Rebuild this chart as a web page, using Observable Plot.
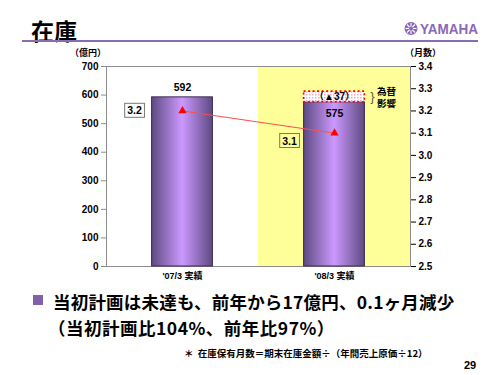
<!DOCTYPE html>
<html><head><meta charset="utf-8">
<script src="https://cdn.jsdelivr.net/npm/d3@7"></script>
<script src="https://cdn.jsdelivr.net/npm/@observablehq/plot@0.6"></script>
<style>
html,body{margin:0;padding:0;background:#fff;}
#page{position:relative;width:500px;height:375px;overflow:hidden;font-family:"Liberation Sans",Arial,"Noto Sans CJK JP",sans-serif;}
.abs{position:absolute;white-space:nowrap;}
#chart{position:absolute;left:0;top:40px;}
#chart svg{font-family:"Liberation Sans",Arial,"Noto Sans CJK JP",sans-serif;font-weight:bold;}
</style></head>
<body>
<div id="page">
  <div class="abs" style="left:31px;top:13px;font-size:23px;font-weight:bold;font-family:'Noto Sans CJK JP';">在庫</div>
  <svg class="abs" style="left:400px;top:18px" width="95" height="22">
    <circle cx="11" cy="10.5" r="6.5" fill="#8a68b8"/>
    <g stroke="#fff" stroke-width="1.1">
      <line x1="11" y1="5" x2="11" y2="16"/><line x1="5.5" y1="10.5" x2="16.5" y2="10.5"/>
      <line x1="7" y1="6.5" x2="15" y2="14.5"/><line x1="15" y1="6.5" x2="7" y2="14.5"/>
    </g>
    <circle cx="11" cy="10.5" r="2" fill="#8a68b8"/>
    <text x="20" y="16" font-size="15" font-weight="bold" fill="#8a68b8" font-family="Liberation Sans Narrow, Liberation Sans, Arial" textLength="58" lengthAdjust="spacingAndGlyphs">YAMAHA</text>
  </svg>
  <div class="abs" style="left:22px;top:40px;width:456px;height:2px;background:#8a6cb0;"></div>
  <div class="abs" style="left:70px;top:46px;font-size:9px;font-weight:bold;font-family:'Noto Sans CJK JP';">（億円）</div>
  <div class="abs" style="left:405px;top:46px;font-size:9px;font-weight:bold;font-family:'Noto Sans CJK JP';">（月数）</div>
  <div id="chart"></div>
  <div class="abs" style="left:33px;top:295px;width:10px;height:10px;background:#8060a8;"></div>
  <div class="abs" style="left:53px;top:289px;font-size:17.5px;font-weight:bold;font-family:'Noto Sans CJK JP';letter-spacing:0.2px;">当初計画は未達も、前年から17億円、0.1ヶ月減少</div>
  <div class="abs" style="left:48px;top:315px;font-size:17.5px;font-weight:bold;font-family:'Noto Sans CJK JP';letter-spacing:0.5px;">（当初計画比104%、前年比97%）</div>
  <div class="abs" style="left:184px;top:346px;font-size:9.5px;font-weight:bold;font-family:'Noto Sans CJK JP';">＊&nbsp;&nbsp;在庫保有月数＝期末在庫金額÷（年間売上原価÷12）</div>
  <div class="abs" style="left:464px;top:359px;font-size:11px;font-weight:bold;">29</div>
</div>
<script>
// ---- data ----
const categories = ["'07/3 実績", "'08/3 実績"];
const inventory = [592, 575];          // 億円
const fxImpact = [null, 37];           // 為替影響 (▲37)
const months = [3.2, 3.1];             // 月数
const leftTicks = [0, 100, 200, 300, 400, 500, 600, 700];
const rightTicks = [2.5, 2.6, 2.7, 2.8, 2.9, 3.0, 3.1, 3.2, 3.3, 3.4];

// ---- scales mapping for secondary axis ----
const yMax = 700, mMin = 2.5, mMax = 3.4;
const toY = m => (m - mMin) / (mMax - mMin) * yMax;
const fromY = y => mMin + y / yMax * (mMax - mMin);

const rows = categories.map((c, k) => ({i: k + 1, cat: c, v: inventory[k], fx: fxImpact[k], m: months[k]}));
const fxRows = rows.filter(d => d.fx != null);
const half = 0.2;

const plot = Plot.plot({
  width: 500, height: 250,
  marginLeft: 106, marginRight: 90, marginTop: 26, marginBottom: 24,
  x: {type: "linear", domain: [0.5, 2.5], axis: null},
  y: {domain: [0, yMax], axis: null},
  marks: [
    Plot.rect([rows[1]], {x1: d => d.i - 0.5, x2: d => d.i + 0.5, y1: 0, y2: yMax, fill: "#ffff99"}),
    Plot.frame({stroke: "#8c8c8c"}),
    Plot.axisY({anchor: "left", ticks: leftTicks, tickSize: 5, tickPadding: 3, fontSize: 10, label: null, stroke: "#8c8c8c"}),
    Plot.axisY({anchor: "right", ticks: rightTicks.map(toY), tickFormat: d => fromY(d).toFixed(1), tickSize: 5, tickPadding: 3, fontSize: 10, label: null}),
    Plot.axisX({ticks: rows.map(d => d.i), tickFormat: i => categories[i - 1], tickSize: 0, tickPadding: 6, fontSize: 9, label: null}),
    Plot.rectY(rows, {x1: d => d.i - half, x2: d => d.i + half, y: "v", fill: "url(#barGrad)", stroke: "#3a2a50", strokeWidth: 1}),
    Plot.rectY(fxRows, {x1: d => d.i - half, x2: d => d.i + half, y1: "v", y2: d => d.v + d.fx, fill: "url(#dotPat)", stroke: "#ff0000", strokeWidth: 1.6, strokeDasharray: "2,2.5"}),
    Plot.text(fxRows, {x: "i", y: d => d.v + d.fx / 2, text: d => `（▲${d.fx}）`, fontSize: 10, fill: "#000"}),
    Plot.text(fxRows, {x: "i", y: d => d.v + d.fx / 2, text: () => "}", dx: 38, fontSize: 13, fontWeight: "normal", fill: "#555"}),
    Plot.text(fxRows, {x: "i", y: d => d.v + d.fx / 2, text: () => "為替\n影響", dx: 52, fontSize: 9.5, lineHeight: 1.25, fill: "#000"}),
    Plot.text([rows[0]], {x: "i", y: "v", text: d => String(d.v), dy: -10, fontSize: 10.5, fill: "#000"}),
    Plot.text([rows[1]], {x: "i", y: "v", text: d => String(d.v), dy: 11, fontSize: 10.5, fill: "#000"}),
    Plot.line(rows, {x: "i", y: d => toY(d.m), stroke: "#ff4d4d", strokeWidth: 1}),
    Plot.dot(rows, {x: "i", y: d => toY(d.m), symbol: "triangle", r: 3.1, fill: "#ff0000", stroke: "none"}),
    Plot.text([rows[0]], {x: "i", y: d => toY(d.m), text: d => d.m.toFixed(1), dx: -48, fontSize: 10.5, fill: "#000", ariaDescription: "boxlabel1"}),
    Plot.text([rows[1]], {x: "i", y: d => toY(d.m), text: d => d.m.toFixed(1), dx: -45, dy: 8, fontSize: 10.5, fill: "#000", ariaDescription: "boxlabel2"})
  ]
});
document.getElementById("chart").appendChild(plot);

// defs for gradient and dotted pattern
const ns = "http://www.w3.org/2000/svg";
const defs = document.createElementNS(ns, "defs");
defs.innerHTML = `
<linearGradient id="barGrad" x1="0" x2="1" y1="0" y2="0">
  <stop offset="0" stop-color="#5e4a82"/>
  <stop offset="0.5" stop-color="#cc99ff"/>
  <stop offset="1" stop-color="#5e4a82"/>
</linearGradient>
<pattern id="dotPat" width="3" height="3" patternUnits="userSpaceOnUse">
  <rect width="3" height="3" fill="#ffffff"/>
  <rect width="1.5" height="1.5" fill="#f4a8c0"/>
</pattern>`;
plot.insertBefore(defs, plot.firstChild);

// boxes behind the month labels
[["boxlabel1", "#ffffff"], ["boxlabel2", "#ffff99"]].forEach(([name, fill]) => {
  const g = plot.querySelector(`g[aria-description="${name}"]`);
  if (!g) return;
  g.querySelectorAll("text").forEach(t => {
    const b = t.getBBox();
    const r = document.createElementNS(ns, "rect");
    r.setAttribute("x", b.x - 2.5); r.setAttribute("y", b.y - 1);
    r.setAttribute("width", b.width + 5); r.setAttribute("height", b.height + 2);
    r.setAttribute("fill", fill);
    r.setAttribute("stroke", "#777");
    r.setAttribute("stroke-width", "1");
    const tr = t.getAttribute("transform");
    if (tr) r.setAttribute("transform", tr);
    t.parentNode.insertBefore(r, t);
  });
});
</script>
</body></html>
